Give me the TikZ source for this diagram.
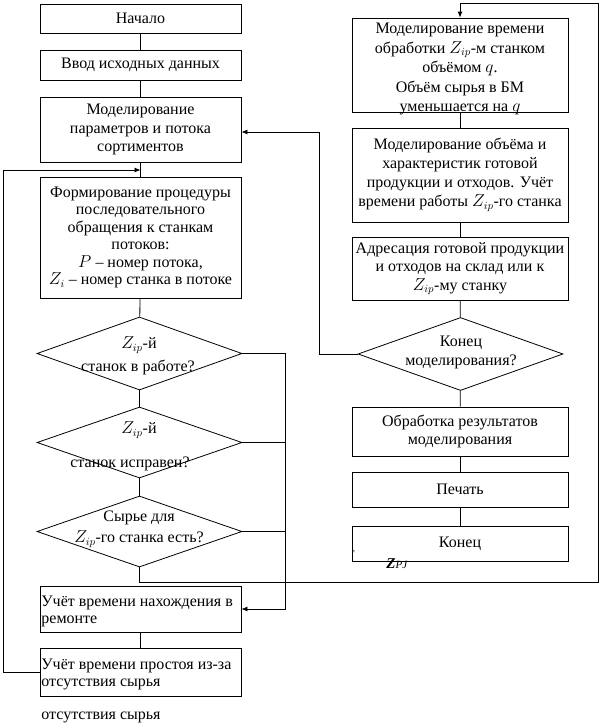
\documentclass[tikz,border=0pt]{standalone}
\usepackage{fontspec}
\setmainfont{Liberation Serif}
\usetikzlibrary{shapes.geometric,arrows.meta}
\begin{document}
\begin{tikzpicture}[x=1pt,y=-1pt, line width=0.8pt,
  box/.style={draw, rectangle, inner sep=1pt, align=center, font=\fontsize{16}{18.5}\selectfont},
  lbox/.style={box, minimum width=201pt},
  rbox/.style={box, minimum width=216pt},
  dia/.style={draw, diamond, inner sep=0pt, minimum width=205pt},
  txt/.style={inner sep=0pt, align=center, font=\fontsize{16}{19.5}\selectfont},
  ltxt/.style={inner sep=0pt, align=left, anchor=west, font=\fontsize{16}{17}\selectfont},
  arr/.style={-{Latex[length=6pt,width=5pt]}},
]
\useasboundingbox (0,0) rectangle (601,728);

% left column
\node[lbox, minimum height=29pt] (start) at (140.5,18.5) {Начало};
\node[lbox, minimum height=30pt] (input) at (140.5,65) {Ввод исходных данных};
\node[lbox, minimum height=65pt] (mp) at (140.5,129.5) {Моделирование\\параметров и потока\\сортиментов};
\node[lbox, minimum height=121pt, font=\fontsize{16}{17.5}\selectfont] (form) at (140.5,237.5)
  {Формирование процедуры\\последовательного\\обращения к станкам\\потоков:\\$P$ – номер потока,\\$Z_i$ – номер станка в потоке};

\node[dia, minimum height=73pt] (d1) at (139.5,353.5) {};
\node[txt] (t1a) at (139,345) {$Z_{ip}$-й};
\node[txt] (t1b) at (138,367) {станок в работе?};
\node[dia, minimum height=71pt] (d2) at (139.5,442.5) {};
\node[txt] (t2a) at (139,430) {$Z_{ip}$-й};
\node[txt] (t2b) at (130,464) {станок исправен?};
\node[dia, minimum height=71pt] (d3) at (139.5,531.5) {};
\node[txt] (t3a) at (139,518) {Сырье для};
\node[txt] (t3b) at (139,539) {$Z_{ip}$-го станка есть?};

\node[lbox, minimum height=46pt] (r1) at (140.5,609) {};
\node[ltxt] (tr1) at (41,611.5) {Учёт времени нахождения в\\ремонте};
\node[lbox, minimum height=48pt] (r2) at (140.5,672) {};
\node[ltxt] (tr2) at (41,674.5) {Учёт времени простоя из-за\\отсутствия сырья};
\node[ltxt] (tb) at (41,717) {отсутствия сырья};

% right column
\node[rbox, minimum height=94pt] (a) at (460,65) {};
\node[txt] (ta) at (460,69) {Моделирование времени\\обработки $Z_{ip}$-м станком\\объёмом $q$.\\Объём сырья в БМ\\уменьшается на $q$};
\node[rbox, minimum height=94pt, font=\fontsize{16}{19}\selectfont] (b) at (460,175)
  {Моделирование объёма и\\характеристик готовой\\продукции и отходов. Учёт\\времени работы $Z_{ip}$-го станка};
\node[rbox, minimum height=63pt] (c) at (460,268.5) {Адресация готовой продукции\\и отходов на склад или к\\$Z_{ip}$-му станку};
\node[dia, minimum height=73pt] (dk) at (460.5,354) {};
\node[txt, font=\fontsize{16}{19}\selectfont] (tk) at (461,352.5) {Конец\\моделирования?};
\node[rbox, minimum height=49pt] (obr) at (460,431.5) {Обработка результатов\\моделирования};
\node[rbox, minimum height=35pt] (pech) at (460,489.5) {Печать};
\node[rbox, minimum height=35pt] (kon) at (460,543.5) {Конец};
\node[inner sep=0pt, font=\fontsize{9}{9}\selectfont] (cm) at (354,552) {,};
\node[inner sep=0pt, anchor=base west] (zpj) at (386,568) {{\fontsize{15}{15}\selectfont\bfseries\itshape Z}{\fontsize{11}{11}\selectfont\itshape PJ}};

% coordinates
\coordinate (j) at (140.5,170);
\coordinate (lx) at (3,170);
\coordinate (bus) at (285,609);
\coordinate (rb) at (598,582);
\coordinate (rt) at (598,3);
\coordinate (lk) at (319,132);

% connectors left
\draw (start) -- (input);
\draw (input) -- (mp);
\draw (mp) -- (form);
\draw[arr] (r2.west) -| (lx) -- (j);
\draw (form) -- (d1);
\draw (d1) -- (d2);
\draw (d2) -- (d3);
\draw[arr] (d1.east) -| (bus) -- (r1.east);
\draw (d2.east) -- (d2.east -| bus);
\draw (d3.east) -- (d3.east -| bus);
\draw (r1) -- (r2);
\draw[arr] (d3.south) |- (rb) -- (rt) -| (a.north);

% connectors right
\draw (a) -- (b);
\draw (b) -- (c);
\draw (c) -- (dk);
\draw (dk) -- (obr);
\draw (obr) -- (pech);
\draw (pech) -- (kon);
\draw[arr] (dk.west) -| (lk) -- (mp.east |- lk);
\end{tikzpicture}
\end{document}
